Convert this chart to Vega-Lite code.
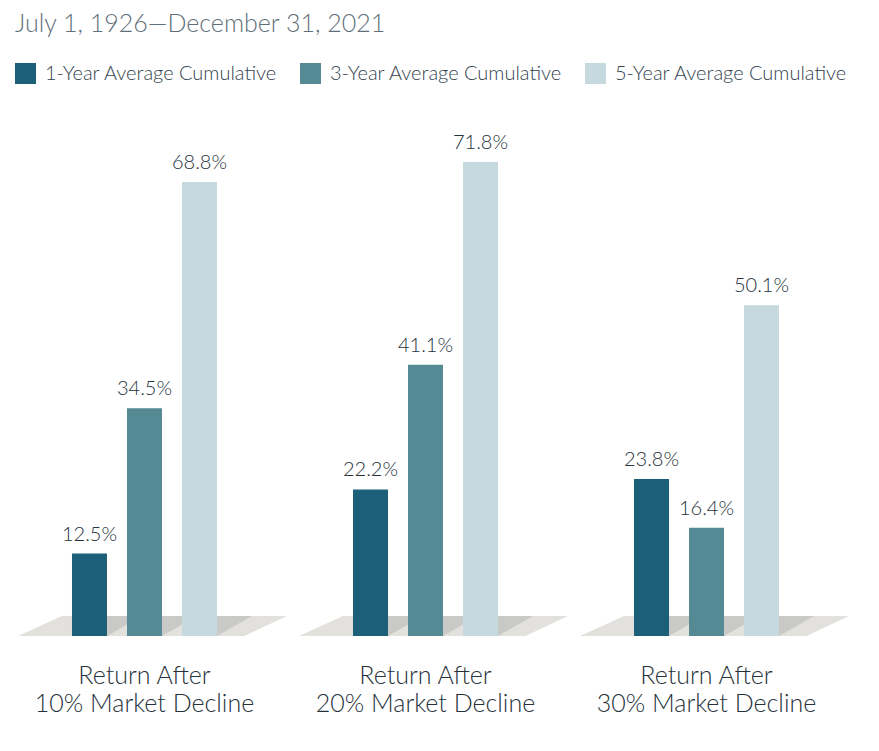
{
  "$schema": "https://vega.github.io/schema/vega-lite/v6.json",
  "width": 821,
  "height": 528,
  "autosize": {"type": "none"},
  "padding": {"left": 15, "top": 108, "right": 43, "bottom": 115},
  "background": "white",
  "title": {
    "text": "July 1, 1926—December 31, 2021",
    "anchor": "start",
    "frame": "group",
    "font": "Lato",
    "fontSize": 25,
    "fontWeight": 300,
    "color": "#5f6f7a",
    "offset": 26
  },
  "config": {
    "view": {"stroke": null},
    "font": "Lato"
  },
  "data": {
    "values": [
      {"group": "Return After|10% Market Decline", "series": "1-Year Average Cumulative", "value": 0.125},
      {"group": "Return After|10% Market Decline", "series": "3-Year Average Cumulative", "value": 0.345},
      {"group": "Return After|10% Market Decline", "series": "5-Year Average Cumulative", "value": 0.688},
      {"group": "Return After|20% Market Decline", "series": "1-Year Average Cumulative", "value": 0.222},
      {"group": "Return After|20% Market Decline", "series": "3-Year Average Cumulative", "value": 0.411},
      {"group": "Return After|20% Market Decline", "series": "5-Year Average Cumulative", "value": 0.718},
      {"group": "Return After|30% Market Decline", "series": "1-Year Average Cumulative", "value": 0.238},
      {"group": "Return After|30% Market Decline", "series": "3-Year Average Cumulative", "value": 0.164},
      {"group": "Return After|30% Market Decline", "series": "5-Year Average Cumulative", "value": 0.501}
    ]
  },
  "encoding": {
    "x": {
      "field": "group",
      "type": "nominal",
      "sort": null,
      "scale": {"paddingInner": 0.484, "paddingOuter": 0.2028},
      "axis": {
        "title": null,
        "domain": false,
        "ticks": false,
        "labelAngle": 0,
        "labelLimit": 0,
        "labelExpr": "split(datum.value, '|')",
        "labelFont": "Lato",
        "labelFontSize": 25,
        "labelFontWeight": 300,
        "labelColor": "#26323b",
        "labelLineHeight": 28,
        "labelPadding": 27
      }
    }
  },
  "layer": [
    {
      "transform": [{"aggregate": [{"op": "count", "as": "n"}], "groupby": ["group"]}],
      "mark": {
        "type": "point",
        "shape": "M-0.888,0 L0.702,0 L1,-0.1404 L-0.579,-0.1404 Z",
        "size": 81225,
        "filled": true,
        "opacity": 1,
        "strokeWidth": 0,
        "color": "#e2e1dd"
      },
      "encoding": {
        "y": {"datum": 0, "type": "quantitative", "scale": {"domain": [0, 0.8]}, "axis": null}
      }
    },
    {
      "mark": {
        "type": "point",
        "shape": "M-0.3333,0 L0.3333,0 L1,-0.381 L0.3333,-0.381 Z",
        "size": 11025,
        "filled": true,
        "opacity": 1,
        "strokeWidth": 0,
        "color": "#c9c9c7"
      },
      "encoding": {
        "xOffset": {"field": "series", "type": "nominal", "scale": {"paddingInner": 0.364, "paddingOuter": 0}},
        "y": {"datum": 0, "type": "quantitative"}
      }
    },
    {
      "mark": {"type": "bar"},
      "encoding": {
        "xOffset": {"field": "series", "type": "nominal"},
        "y": {"field": "value", "type": "quantitative"},
        "color": {
          "field": "series",
          "type": "nominal",
          "scale": {
            "domain": ["1-Year Average Cumulative", "3-Year Average Cumulative", "5-Year Average Cumulative"],
            "range": ["#1b5f78", "#558a95", "#c5d9de"]
          },
          "legend": {
            "title": null,
            "orient": "none",
            "direction": "horizontal",
            "legendX": 0,
            "legendY": -45,
            "symbolType": "square",
            "symbolSize": 441,
            "symbolStrokeWidth": 0,
            "symbolOpacity": 1,
            "labelFont": "Lato",
            "labelFontSize": 20,
            "labelFontWeight": 300,
            "labelLimit": 0,
            "labelColor": "#33434e",
            "labelOffset": 9,
            "columnPadding": 22
          }
        }
      }
    },
    {
      "mark": {"type": "text", "baseline": "alphabetic", "dy": -13, "fontSize": 20, "fontWeight": 300, "font": "Lato", "color": "#26323b"},
      "encoding": {
        "xOffset": {"field": "series", "type": "nominal"},
        "y": {"field": "value", "type": "quantitative"},
        "text": {"field": "value", "type": "quantitative", "format": ".1%"},
        "detail": {"field": "series"}
      }
    }
  ]
}
